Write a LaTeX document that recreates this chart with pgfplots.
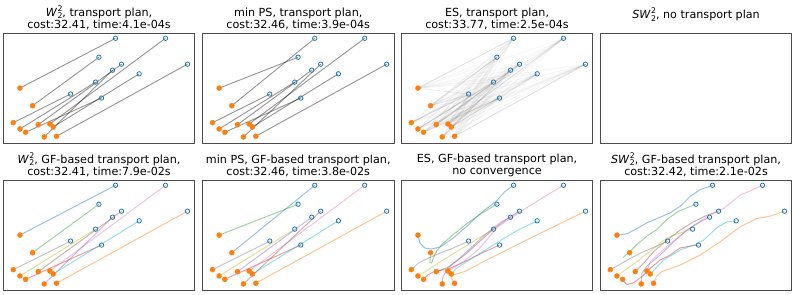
\documentclass[border=0pt]{standalone}
\usepackage{pgfplots}
\pgfplotsset{compat=1.18}
\usepackage{fontspec}
\setmainfont{DejaVu Sans}
\definecolor{tBlue}{HTML}{1F77B4}
\definecolor{tOrange}{HTML}{FF7F0E}
\definecolor{tGreen}{HTML}{2CA02C}
\definecolor{tRed}{HTML}{D62728}
\definecolor{tPurple}{HTML}{9467BD}
\definecolor{tBrown}{HTML}{8C564B}
\definecolor{tPink}{HTML}{E377C2}
\definecolor{tGray}{HTML}{7F7F7F}
\definecolor{tOlive}{HTML}{BCBD22}
\definecolor{tCyan}{HTML}{17BECF}
\newcommand\ttlfont{\fontsize{11.2}{12.8}\selectfont}
\newcommand\sml{\fontsize{7.8}{8}\selectfont}
\newcommand\Wsq{\textit{W}\kern0.3bp\rlap{\raisebox{0.42em}{\sml 2}}\raisebox{-0.25em}{\sml 2}}
\newcommand\SWsq{\textit{SW}\kern0.3bp\rlap{\raisebox{0.42em}{\sml 2}}\raisebox{-0.25em}{\sml 2}}
\pgfplotsset{
  panel/.style={scale only axis, width=191.5bp, height=109.6bp,
    xmin=0, xmax=575, ymin=0, ymax=330, y dir=reverse, ticks=none,
    axis line style={draw=black!70, line width=0.8bp},
    title style={font=\ttlfont, align=center, inner sep=0pt, anchor=south, at={(0.5,1)}, yshift=-3bp},
    anchor=north west},
  pl/.style={black, opacity=0.42, line width=0.9bp},
  gf/.style={#1, opacity=0.45, line width=1bp},
  es/.style={black, opacity=0.035, line width=0.9bp},
}
\newcommand\seg[3]{\addplot[#1] coordinates {(#2) (#3)};}
\newcommand\ptmarks{%
\addplot[only marks, mark=*, mark size=2.5bp, draw=tOrange, fill=tOrange] coordinates {(50,165) (88,218) (30,269) (50,288) (67,298) (105,275) (140,273) (150,282) (123,312) (160,310)};
\addplot[only marks, mark=o, mark size=2.2bp, tBlue, mark options={line width=0.8bp}] coordinates {(337,15) (287,72) (202,183) (277,147) (295,195) (355,93) (487,15) (408,122) (328,111) (553,93)};}
\def\srcs{50/165,88/218,30/269,50/288,67/298,105/275,140/273,150/282,123/312,160/310}
\def\tgts{337/15,287/72,202/183,277/147,295/195,355/93,487/15,408/122,328/111,553/93}
\begin{document}
\begin{tikzpicture}
\useasboundingbox (0,0) rectangle (797bp,-295bp);
% ---------- top row ----------
\begin{axis}[panel, at={(3.3bp,-33.3bp)}, title={\Wsq, transport plan,\\cost:32.41, time:4.1e-04s}]
\seg{pl}{50,165}{337,15}
\seg{pl}{88,218}{287,72}
\seg{pl}{30,269}{202,183}
\seg{pl}{50,288}{277,147}
\seg{pl}{67,298}{295,195}
\seg{pl}{105,275}{355,93}
\seg{pl}{140,273}{487,15}
\seg{pl}{150,282}{408,122}
\seg{pl}{123,312}{328,111}
\seg{pl}{160,310}{553,93}
\ptmarks
\end{axis}
\begin{axis}[panel, at={(202.5bp,-33.3bp)}, title={min PS, transport plan,\\cost:32.46, time:3.9e-04s}]
\seg{pl}{50,165}{287,72}
\seg{pl}{88,218}{337,15}
\seg{pl}{30,269}{202,183}
\seg{pl}{50,288}{277,147}
\seg{pl}{67,298}{295,195}
\seg{pl}{105,275}{328,111}
\seg{pl}{140,273}{487,15}
\seg{pl}{150,282}{408,122}
\seg{pl}{123,312}{355,93}
\seg{pl}{160,310}{553,93}
\ptmarks
\end{axis}
\begin{axis}[panel, at={(401.3bp,-33.3bp)}, title={ES, transport plan,\\cost:33.77, time:2.5e-04s}]
\foreach \sa/\sb in \srcs {\foreach \ta/\tb in \tgts {\edef\tmp{\noexpand\addplot[es] coordinates {(\sa,\sb) (\ta,\tb)};}\tmp}}
\seg{black, opacity=0.09, line width=0.9bp}{50,165}{337,15}
\seg{black, opacity=0.09, line width=0.9bp}{88,218}{287,72}
\seg{black, opacity=0.09, line width=0.9bp}{30,269}{202,183}
\seg{black, opacity=0.09, line width=0.9bp}{50,288}{277,147}
\seg{black, opacity=0.09, line width=0.9bp}{67,298}{295,195}
\seg{black, opacity=0.09, line width=0.9bp}{105,275}{355,93}
\seg{black, opacity=0.09, line width=0.9bp}{140,273}{487,15}
\seg{black, opacity=0.09, line width=0.9bp}{150,282}{408,122}
\seg{black, opacity=0.09, line width=0.9bp}{123,312}{328,111}
\seg{black, opacity=0.09, line width=0.9bp}{160,310}{553,93}
\ptmarks
\end{axis}
\begin{axis}[panel, at={(600.3bp,-33.3bp)}, title={\SWsq, no transport plan}, title style={yshift=8.7bp}]
\addplot[draw=none] coordinates {(0,0)};
\end{axis}
% ---------- bottom row ----------
\begin{axis}[panel, at={(3.3bp,-180.3bp)}, title={\Wsq, GF-based transport plan,\\cost:32.41, time:7.9e-02s}]
\seg{gf=tBlue}{50,165}{337,15}
\seg{gf=tGreen}{88,218}{287,72}
\seg{gf=tGray}{30,269}{202,183}
\seg{gf=tOlive}{50,288}{277,147}
\seg{gf=tRed}{67,298}{295,195}
\seg{gf=tBrown}{105,275}{355,93}
\seg{gf=tPink}{140,273}{487,15}
\seg{gf=tCyan}{150,282}{408,122}
\seg{gf=tPurple}{123,312}{328,111}
\seg{gf=tOrange}{160,310}{553,93}
\ptmarks
\end{axis}
\begin{axis}[panel, at={(202.5bp,-180.3bp)}, title={min PS, GF-based transport plan,\\cost:32.46, time:3.8e-02s}]
\seg{gf=tGreen}{50,165}{287,72}
\seg{gf=tBlue}{88,218}{337,15}
\seg{gf=tGray}{30,269}{202,183}
\seg{gf=tOlive}{50,288}{277,147}
\seg{gf=tRed}{67,298}{295,195}
\seg{gf=tPurple}{105,275}{328,111}
\seg{gf=tPink}{140,273}{487,15}
\seg{gf=tCyan}{150,282}{408,122}
\seg{gf=tBrown}{123,312}{355,93}
\seg{gf=tOrange}{160,310}{553,93}
\ptmarks
\end{axis}
\begin{axis}[panel, at={(401.3bp,-180.3bp)}, title={ES, GF-based transport plan,\\no convergence}]
\addplot[gf=tBlue] coordinates {(50,165) (56,189) (71,204) (91,207) (116,201) (156,174) (196,139) (216,119) (250,90) (285,63) (310,35) (337,15)};
\addplot[gf=tGreen] coordinates {(88,218) (86,247) (91,249) (96,234) (106,214) (121,194) (160,160) (200,128) (240,100) (287,72)};
\addplot[gf=tGray] coordinates {(30,269) (41,259) (51,249) (76,237) (116,219) (156,204) (202,183)};
\addplot[gf=tOlive] coordinates {(50,288) (66,279) (96,259) (150,225) (210,188) (277,147)};
\addplot[gf=tRed] coordinates {(67,298) (81,284) (101,274) (140,268) (200,240) (250,215) (295,195)};
\addplot[gf=tBrown] coordinates {(105,275) (140,262) (190,225) (240,180) (277,147) (320,115) (355,93)};
\addplot[gf=tPink] coordinates {(140,273) (180,250) (230,210) (290,140) (350,100) (420,55) (487,15)};
\addplot[gf=tCyan] coordinates {(150,282) (165,265) (220,230) (300,180) (350,150) (408,122)};
\addplot[gf=tPurple] coordinates {(123,312) (125,290) (140,265) (180,230) (250,165) (300,125) (328,111)};
\addplot[gf=tOrange] coordinates {(160,310) (150,293) (155,285) (190,275) (250,243) (390,173) (553,93)};
\ptmarks
\end{axis}
\begin{axis}[panel, at={(600.3bp,-180.3bp)}, title={\SWsq, GF-based transport plan,\\cost:32.42, time:2.1e-02s}]
\addplot[gf=tBlue] coordinates {(50,165) (80,161) (105,148) (140,128) (175,113) (210,98) (240,78) (270,48) (300,28) (337,15)};
\addplot[gf=tGreen] coordinates {(68,233) (85,218) (110,193) (140,168) (170,148) (200,118) (235,93) (287,72)};
\addplot[gf=tGray] coordinates {(30,269) (50,258) (90,235) (130,215) (165,200) (202,183)};
\addplot[gf=tOlive] coordinates {(50,288) (70,273) (110,245) (160,205) (200,173) (235,160) (277,147)};
\addplot[gf=tRed] coordinates {(67,298) (79,314) (99,309) (125,290) (150,265) (180,240) (210,225) (239,204) (270,198) (295,195)};
\addplot[gf=tBrown] coordinates {(105,275) (130,250) (160,215) (200,180) (240,150) (280,125) (320,105) (355,93)};
\addplot[gf=tPink] coordinates {(140,273) (150,245) (200,200) (260,150) (320,110) (370,85) (420,45) (487,15)};
\addplot[gf=tCyan] coordinates {(150,282) (190,240) (240,210) (285,193) (310,180) (350,143) (380,125) (408,122)};
\addplot[gf=tPurple] coordinates {(123,312) (125,280) (140,258) (180,225) (220,185) (260,150) (300,125) (328,111)};
\addplot[gf=tOrange] coordinates {(160,310) (168,290) (185,275) (240,255) (300,225) (360,185) (420,140) (470,115) (510,108) (553,93)};
\ptmarks
\end{axis}
\end{tikzpicture}
\end{document}
